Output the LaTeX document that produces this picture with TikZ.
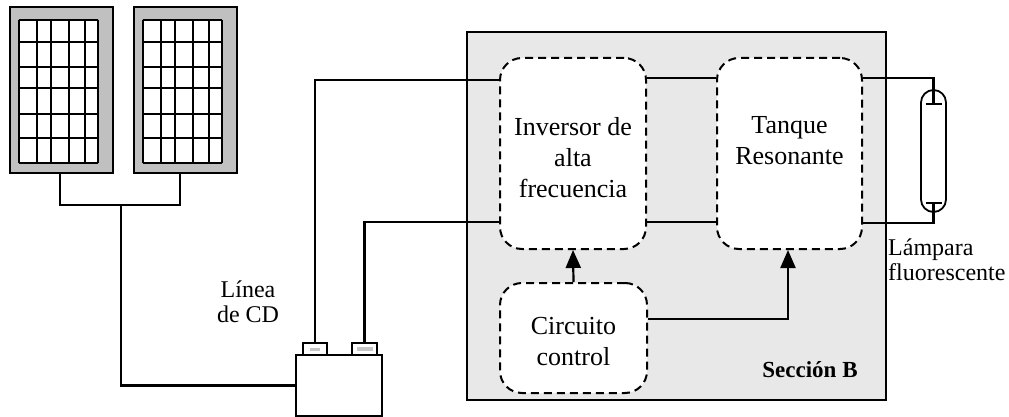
\documentclass[tikz,border=0pt]{standalone}
\usepackage{fontspec}
\setmainfont{Liberation Serif}
\usetikzlibrary{arrows.meta,positioning,calc}
\definecolor{panelgray}{RGB}{192,192,192}
\definecolor{sectiongray}{RGB}{232,232,232}

\begin{document}
\begin{tikzpicture}[
    x=1pt, y=-1pt,
    wire/.style={line width=2.2pt},
    box/.style={rectangle, draw, dash pattern=on 8pt off 5pt, line width=2pt, rounded corners=22pt, fill=white, align=center, inner sep=0pt, font=\fontsize{26}{31}\selectfont},
    panel/.style={rectangle, draw, line width=2.8pt, fill=panelgray, minimum width=103pt, minimum height=166pt, inner sep=0pt},
    cell/.style={line width=2pt},
    term/.style={rectangle, draw, line width=2.2pt, fill=white, minimum width=24pt, minimum height=12pt, inner sep=0pt},
    arrow/.style={-{Triangle[length=18pt,width=15pt]}, line width=2.2pt}
]
\useasboundingbox (0,0) rectangle (1009,417);

\node[draw, line width=2pt, fill=sectiongray, minimum width=419pt, minimum height=368pt, inner sep=0pt] (secB) at (676.5,216) {};
\node[anchor=base, font=\bfseries\fontsize{23}{27}\selectfont] (secBname) at (810,377) {Sección B};

\node[panel] (pv1) at (61.5,90) {};
\node[panel] (pv2) at (185.5,90) {};
\foreach \pv in {pv1,pv2} {
  \fill[white] ($(\pv.north west)+(10,14)$) rectangle ++(79,143);
  \foreach \gx in {0,18,32,50,66,79}
    \draw[cell] ($(\pv.north west)+(10+\gx,14)$) -- ++(0,143);
  \foreach \gy in {0,22,47,68,94,118,143}
    \draw[cell] ($(\pv.north west)+(10,14+\gy)$) -- ++(79,0);
}

\node[draw, line width=2.4pt, minimum width=86pt, minimum height=61pt, inner sep=0pt] (bat) at (339,385.5) {};
\node[term] (batP) at (315,349) {};
\node[term, minimum width=25pt] (batN) at (364.5,349) {};
\fill[gray!45] ($(batP)+(-5,-1.5)$) rectangle ++(10,3);
\fill[gray!45] ($(batN)+(-8,-2)$) rectangle ++(16,4);
\node[align=center, inner sep=0pt, font=\fontsize{24}{25}\selectfont] (dcline) at (248,302) {Línea\\de CD};

\node[box, minimum width=146pt, minimum height=191pt] (inv) at (573,153.5) {\mbox{}\\[-4pt]Inversor de\\alta\\frecuencia};
\node[box, minimum width=145pt, minimum height=191pt] (tank) at (789.5,153.5) {Tanque\\Resonante\\[-5pt]\mbox{}};
\node[box, minimum width=147pt, minimum height=110pt] (ctrl) at (573.5,338) {\mbox{}\\[-7pt]Circuito\\control};

\node[draw, line width=1.8pt, rounded corners=12.5pt, minimum width=25pt, minimum height=122pt, inner sep=0pt] (lamp) at (933.5,151) {};
\node[anchor=west, align=left, inner sep=0pt, font=\fontsize{24}{25}\selectfont] (lamplabel) at (888,260) {Lámpara\\fluorescente};

\coordinate (jn) at (121,205);
\coordinate (elA) at ($(lamp.north)+(0,15)$);
\coordinate (elB) at ($(lamp.south)+(0,-10)$);

\draw[wire] ([xshift=-1.5pt]pv1.south) |- (jn) -| ([xshift=-5.5pt]pv2.south);
\draw[wire] (jn) |- (bat.west);
\draw[wire] (batP.north) |- ([yshift=73.5pt]inv.west);
\draw[wire] (batN.north) |- ([yshift=-68.5pt]inv.west);
\draw[wire] ([yshift=75.5pt]inv.east) -- ([yshift=75.5pt]tank.west);
\draw[wire] ([yshift=-68.5pt]inv.east) -- ([yshift=-68.5pt]tank.west);
\draw[wire] ([yshift=75.5pt]tank.east) -| (elA);
\draw[wire] ([yshift=-69.5pt]tank.east) -| (elB);
\draw[wire] ([xshift=-8pt]elA) -- ([xshift=8pt]elA);
\draw[wire] ([xshift=-8pt]elB) -- ([xshift=8pt]elB);

\draw[arrow] (ctrl.north) -- (inv.south);
\draw[arrow] ([yshift=19pt]ctrl.east) -| ([xshift=-1.5pt]tank.south);

\end{tikzpicture}
\end{document}
